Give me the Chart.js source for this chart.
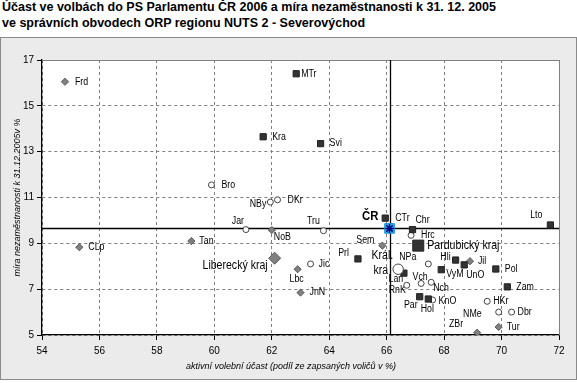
<!DOCTYPE html>
<html><head><meta charset="utf-8">
<script src="https://cdn.jsdelivr.net/npm/chart.js@4/dist/chart.umd.min.js"></script>
<style>
html,body{margin:0;padding:0;width:577px;height:383px;overflow:hidden;background:#fff;}
#title{position:absolute;left:2px;top:-1px;font:bold 12.5px 'Liberation Sans',Arial,sans-serif;line-height:16px;color:#000;white-space:nowrap;}
#panel{position:absolute;left:0;top:37px;width:575px;height:341px;background:#ebebeb;border:1px solid #8a8a8a;}
#wrap{position:absolute;left:0;top:0;width:577px;height:383px;}
</style></head><body>
<div id="title">Účast ve volbách do PS Parlamentu ČR 2006 a míra nezaměstnanosti k 31. 12. 2005<br>ve správních obvodech ORP regionu NUTS 2 - Severovýchod</div>
<div id="panel"></div>
<div id="wrap"><canvas id="c" width="577" height="383"></canvas></div>
<script>
// ---- data ----
const xTicks = [54,56,58,60,62,64,66,68,70,72];
const yTicks = [5,7,9,11,13,15,17];

const libNames = ['Frd','CLp','Tan','NoB','Lbc','JnN','Sem','Jil','Tur','ZBr'];
const libX     = [54.8,55.3,59.2,62.0,62.9,63.0,65.85,68.9,69.9,69.15];
const libY     = [16.05,8.83,9.1,9.58,7.87,6.85,8.9,8.22,5.35,5.1];

const hkNames = ['Bro','NBy','DKr','Jar','Tru','Jic','Hrc','NPa','RnK','Vch','Nch','HKr','NMe','Dbr','KnO'];
const hkX     = [59.9,61.95,62.2,61.1,63.8,63.35,66.85,67.45,66.7,67.2,67.55,69.5,69.9,70.35,67.6];
const hkY     = [11.55,10.8,10.9,9.6,9.55,8.1,9.35,8.1,7.17,7.25,7.3,6.47,6.0,6.0,6.53];

const pardNames = ['MTr','Kra','Svi','CTr','Chr','Prl','Lan','Hli','UnO','VyM','Pol','Zam','Par','Hol','Lto'];
const pardX     = [62.85,61.7,63.7,65.95,66.9,65.0,66.6,68.4,68.7,67.9,69.8,70.2,67.15,67.45,71.7];
const pardY     = [16.4,13.65,13.35,10.1,9.6,8.32,7.7,8.27,8.06,7.85,7.88,7.1,6.67,6.57,9.8];

const krajNames = ['Liberecký kraj','Královéhradecký kraj','Pardubický kraj'];
const krajX     = [62.1,66.4,67.1];
const krajY     = [8.35,7.87,8.9];

const crNames = ['ČR'];
const crX = [66.1];
const crY = [9.65];

const xTitle = 'aktivní volební účast (podíl ze zapsaných voličů v %)';
const yTitle = 'míra nezaměstnanosti k 31.12.2005v %';

// ---- label layout (offsets in px from marker) ----
const labelLayout = {
  Frd:[[null,10,0,'left']], MTr:[[null,5,0,'left']], Kra:[[null,9,0,'left']], Svi:[[null,9,0,'left']],
  Bro:[[null,10,0,'left']], NBy:[[null,-4,2,'right']], DKr:[[null,10,0,'left']], Jar:[[null,-8,-8,'center']],
  NoB:[[null,2,7,'left']], Tru:[[null,-10,-9,'center']], Tan:[[null,8,0,'left']], CLp:[[null,9,0,'left']],
  Lbc:[[null,-1,10,'center']], Jic:[[null,8,0,'left']], JnN:[[null,9,0,'left']], Sem:[[null,-8,-5,'right']],
  Prl:[[null,-9,-6,'right']], CTr:[[null,10,0,'left']], Chr:[[null,3,-9,'left']], Hrc:[[null,10,0,'left']],
  NPa:[[null,-12,-7,'right']], Hli:[[null,-5,-3,'right']], Jil:[[null,8,0,'left']], VyM:[[null,5,5,'left']],
  UnO:[[null,2,10,'left']], Pol:[[null,9,0,'left']], Zam:[[null,9,0,'left']], Lto:[[null,-8,-10,'right']],
  HKr:[[null,6,0,'left']], NMe:[[null,-17,2,'right']], Dbr:[[null,6,0,'left']], Tur:[[null,8,0,'left']],
  ZBr:[[null,-14,-8,'right']], Par:[[null,-2,9,'right']], Hol:[[null,-1,10,'center']], KnO:[[null,6,1,'left']],
  Lan:[[null,-8,6,'center']], RnK:[[null,-1,5,'right']], Vch:[[null,-1,-6,'center']], Nch:[[null,2,6,'left']],
  'Liberecký kraj':[[null,-7,7,'right','big']],
  'Královéhradecký kraj':[['Král.',-5,-14,'right','big'],['kra',-10,1,'right','big']],
  'Pardubický kraj':[[null,9,0,'left','big']],
  'ČR':[[null,-11,-12,'right','bold']]
};
const FONTS = {
  small: "10px 'Liberation Sans', Arial, sans-serif",
  big: "12px 'Liberation Sans', Arial, sans-serif",
  bold: "bold 12px 'Liberation Sans', Arial, sans-serif"
};

function pts(xs, ys){ return xs.map((x,i)=>({x:x, y:ys[i]})); }

const datasets = [
  {names:crNames, data:pts(crX,crY), pointStyle:'star', pointRadius:4.5, borderColor:'#000080', backgroundColor:'#000080', pointBorderWidth:1.5},
  {names:[], data:pts(crX,crY), pointStyle:'rect', pointRadius:6.8, backgroundColor:'#2bb5ee', borderColor:'#1a8fd0', pointBorderWidth:1},
  {names:krajNames, data:pts(krajX,krajY), pointStyle:['rectRot','circle','rect'], pointRadius:[6,5.2,7.8],
   backgroundColor:['#808080','#ffffff','#333333'], borderColor:['#5a5a5a','#444444','#222222'], pointBorderWidth:1},
  {names:pardNames, data:pts(pardX,pardY), pointStyle:'rect', pointRadius:4.4, backgroundColor:'#333333', borderColor:'#222222', pointBorderWidth:1},
  {names:libNames, data:pts(libX,libY), pointStyle:'rectRot', pointRadius:3.6, backgroundColor:'#808080', borderColor:'#5a5a5a', pointBorderWidth:1},
  {names:hkNames, data:pts(hkX,hkY), pointStyle:'circle', pointRadius:3, backgroundColor:'#ffffff', borderColor:'#444444', pointBorderWidth:1}
];

const plotPlugin = {
  id:'plotPlugin',
  beforeDraw(chart){
    const {ctx, chartArea:a} = chart;
    ctx.save(); ctx.fillStyle='#ffffff'; ctx.fillRect(a.left,a.top,a.right-a.left,a.bottom-a.top); ctx.restore();
  },
  beforeDatasetsDraw(chart){
    const {ctx, chartArea:a, scales:{x,y}} = chart;
    ctx.save();
    // plot border (top/right)
    ctx.strokeStyle='#808080'; ctx.lineWidth=1;
    ctx.beginPath();
    ctx.moveTo(a.left, Math.round(a.top)+0.5); ctx.lineTo(Math.round(a.right)+0.5, Math.round(a.top)+0.5);
    ctx.lineTo(Math.round(a.right)+0.5, a.bottom);
    ctx.stroke();
    // reference lines at ČR values
    const px = Math.round(x.getPixelForValue(crX[0]))+0.5;
    const py = Math.round(y.getPixelForValue(crY[0]))+0.5;
    ctx.strokeStyle='#000'; ctx.lineWidth=1.3;
    ctx.beginPath(); ctx.moveTo(px,a.top); ctx.lineTo(px,a.bottom); ctx.stroke();
    ctx.beginPath(); ctx.moveTo(a.left,py); ctx.lineTo(a.right,py); ctx.stroke();
    // labels
    ctx.fillStyle='#000'; ctx.textBaseline='middle';
    chart.data.datasets.forEach((ds,di)=>{
      const meta = chart.getDatasetMeta(di);
      (ds.names||[]).forEach((nm,i)=>{
        const el = meta.data[i]; if(!el) return;
        const parts = labelLayout[nm] || [[null,9,0,'left']];
        parts.forEach(p=>{
          const txt = p[0] || nm;
          ctx.save();
          ctx.font = FONTS[p[4]||'small'];
          ctx.textAlign = p[3];
          ctx.translate(el.x + p[1], el.y + p[2]);
          ctx.scale(p[4]==='bold'?0.95:0.88, 1);
          ctx.fillText(txt, 0, 0);
          ctx.restore();
        });
      });
    });
    ctx.restore();
  },
  afterDraw(chart){
    const {ctx, chartArea:a} = chart;
    ctx.save(); ctx.fillStyle='#000';
    ctx.font = "italic 9px 'Liberation Sans', Arial, sans-serif";
    ctx.textAlign='center'; ctx.textBaseline='middle';
    ctx.fillText(xTitle, 291, 366);
    ctx.translate(17, (a.top+a.bottom)/2); ctx.rotate(-Math.PI/2);
    ctx.fillText(yTitle, 0, 0);
    ctx.restore();
  }
};

const tickFont = {family:"'Liberation Sans', Arial, sans-serif", size:10};
new Chart(document.getElementById('c'), {
  type:'scatter',
  data:{datasets:datasets},
  options:{
    responsive:false, animation:false,
    layout:{padding:{top:60,right:18,left:0,bottom:0}},
    plugins:{legend:{display:false}, tooltip:{enabled:false}},
    scales:{
      x:{type:'linear', min:xTicks[0], max:xTicks[xTicks.length-1],
         afterBuildTicks(s){ s.ticks = xTicks.map(v=>({value:v})); },
         afterFit(s){ s.height = 48; },
         ticks:{font:tickFont, color:'#000', padding:5, maxRotation:0, autoSkip:false},
         grid:{color:'#808080', tickColor:'#000', tickLength:5, lineWidth:1},
         border:{color:'#000', width:1.3, dash:[3,3]}},
      y:{type:'linear', min:yTicks[0], max:yTicks[yTicks.length-1],
         afterBuildTicks(s){ s.ticks = yTicks.map(v=>({value:v})); },
         afterFit(s){ s.width = 42; },
         ticks:{font:tickFont, color:'#000', padding:3, autoSkip:false},
         grid:{color:'#808080', tickColor:'#000', tickLength:5, lineWidth:1},
         border:{color:'#000', width:1.3, dash:[3,3]}}
    }
  },
  plugins:[plotPlugin]
});
</script>
</body></html>
